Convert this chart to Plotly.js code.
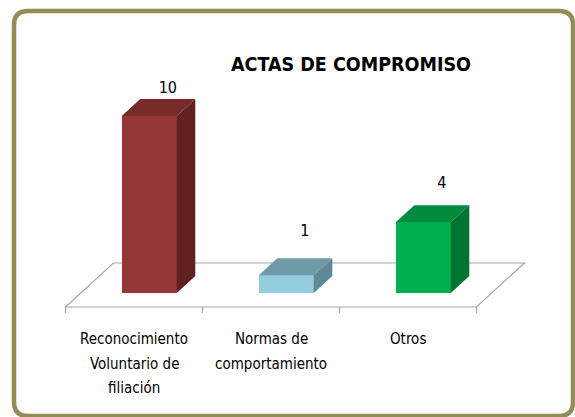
<!DOCTYPE html>
<html><head><meta charset="utf-8">
<script src="https://cdn.plot.ly/plotly-3.0.1.min.js"></script>
<style>html,body{margin:0;padding:0;background:#fff}#chart{width:575px;height:417px}</style>
</head><body><div id="chart"></div>
<script>
// ---- data ----
const chartTitle = "ACTAS DE COMPROMISO";
const categories = ["Reconocimiento<br>Voluntario de<br>filiación", "Normas de<br>comportamiento", "Otros"];
const values = [10, 1, 4];
const valueLabels = ["10", "1", "4"];

// ---- styles ----
const frontColors = ["#953735", "#93CDDD", "#00B050"];
const topColors = ["#772B2A", "#6F9BA7", "#008A3D"];
const sideColors = ["#5F2221", "#5D8894", "#007433"];
const labelLift = [10, 26, 21];   // px gap between back-top edge and label centre
const FONT = '"DejaVu Sans Condensed", "Liberation Sans Narrow", Lato, sans-serif';

// ---- geometry (pixel scale of the pseudo-3D projection) ----
const W = 575, H = 417;
const PX = 137, PY = 17.7, SLOPE = 1.09;
const X0 = 134, Y0 = 307;
const dX = d => d * SLOPE / PX, dY = d => d / PY;
const D_FRONT = 14, D_BACK = 31, D_FLOOR = 44, BAR_W = 55 / PX;

const traces = [];
// front faces
traces.push({
  type: 'bar',
  x: categories.map((_, i) => i + dX(D_FRONT)),
  y: values,
  base: dY(D_FRONT),
  width: BAR_W,
  marker: {color: frontColors, line: {width: 0}},
  hoverinfo: 'skip', showlegend: false
});
// top and side faces
values.forEach((v, i) => {
  const xl = i + dX(D_FRONT) - BAR_W / 2, xr = xl + BAR_W;
  const top = v + dY(D_FRONT), bot = dY(D_FRONT);
  const ddx = dX(D_BACK) - dX(D_FRONT), ddy = dY(D_BACK) - dY(D_FRONT);
  traces.push({
    type: 'scatter', mode: 'lines', fill: 'toself', fillcolor: topColors[i],
    line: {width: 0, color: topColors[i]}, hoverinfo: 'skip', showlegend: false,
    x: [xl, xr, xr + ddx, xl + ddx, xl], y: [top, top, top + ddy, top + ddy, top]
  });
  traces.push({
    type: 'scatter', mode: 'lines', fill: 'toself', fillcolor: sideColors[i],
    line: {width: 0, color: sideColors[i]}, hoverinfo: 'skip', showlegend: false,
    x: [xr, xr + ddx, xr + ddx, xr, xr], y: [bot, bot + ddy, top + ddy, top, bot]
  });
});
// value labels
traces.push({
  type: 'scatter', mode: 'text',
  x: categories.map((_, i) => i + dX(D_BACK)),
  y: values.map((v, i) => v + dY(D_BACK) + labelLift[i] / PY),
  text: valueLabels, textposition: 'middle center',
  textfont: {family: FONT, size: 16, color: '#000'},
  hoverinfo: 'skip', showlegend: false
});

const n = categories.length;
const shapes = [];
// floor
const fd = dX(D_FLOOR), fy = dY(D_FLOOR);
shapes.push({
  type: 'path', xref: 'x', yref: 'y', layer: 'below',
  path: `M ${-0.5},0 L ${n - 0.5},0 L ${n - 0.5 + fd},${fy} L ${-0.5 + fd},${fy} Z`,
  line: {color: '#A6A6A6', width: 1.2}, fillcolor: '#FFFFFF'
});
for (let k = 0; k <= n; k++) {
  shapes.push({type: 'line', xref: 'x', yref: 'y', layer: 'below',
    x0: k - 0.5, x1: k - 0.5, y0: 0, y1: -6 / PY,
    line: {color: '#A6A6A6', width: 1.2}});
}
// frame
const px = v => v / W, py = v => 1 - v / H;
const fx0 = 14, fx1 = 573, fy0 = 11, fy1 = 416, r = 14;
shapes.push({
  type: 'path', xref: 'paper', yref: 'paper', layer: 'above',
  path: `M ${px(fx0 + r)},${py(fy0)} L ${px(fx1 - r)},${py(fy0)} Q ${px(fx1)},${py(fy0)} ${px(fx1)},${py(fy0 + r)} ` +
        `L ${px(fx1)},${py(fy1 - r)} Q ${px(fx1)},${py(fy1)} ${px(fx1 - r)},${py(fy1)} ` +
        `L ${px(fx0 + r)},${py(fy1)} Q ${px(fx0)},${py(fy1)} ${px(fx0)},${py(fy1 - r)} ` +
        `L ${px(fx0)},${py(fy0 + r)} Q ${px(fx0)},${py(fy0)} ${px(fx0 + r)},${py(fy0)} Z`,
  line: {color: '#958B55', width: 4.5}
});

// category labels, one annotation per line
const annotations = [];
categories.forEach((c, i) => {
  c.split('<br>').forEach((line, k) => {
    annotations.push({
      x: i, y: 0, xref: 'x', yref: 'y', text: line, showarrow: false,
      xanchor: 'center', yanchor: 'middle', yshift: -(32 + 24.5 * k),
      font: {family: FONT, size: 15, color: '#000'}
    });
  });
});

const layout = {
  width: W, height: H, autosize: false,
  margin: {l: 0, r: 0, t: 0, b: 0, pad: 0},
  paper_bgcolor: '#FFFFFF', plot_bgcolor: '#FFFFFF',
  title: {text: '<b>' + chartTitle + '</b>', x: 351 / W, xanchor: 'center', xref: 'paper',
          y: 1 - 64 / H, yanchor: 'middle', yref: 'paper',
          font: {family: FONT, size: 19.5, color: '#000'}},
  xaxis: {range: [-X0 / PX, (W - X0) / PX], visible: false, fixedrange: true},
  yaxis: {range: [(Y0 - H) / PY, Y0 / PY], visible: false, fixedrange: true},
  shapes: shapes, annotations: annotations, showlegend: false, bargap: 0
};
Plotly.newPlot('chart', traces, layout, {displayModeBar: false, staticPlot: true});
</script></body></html>
